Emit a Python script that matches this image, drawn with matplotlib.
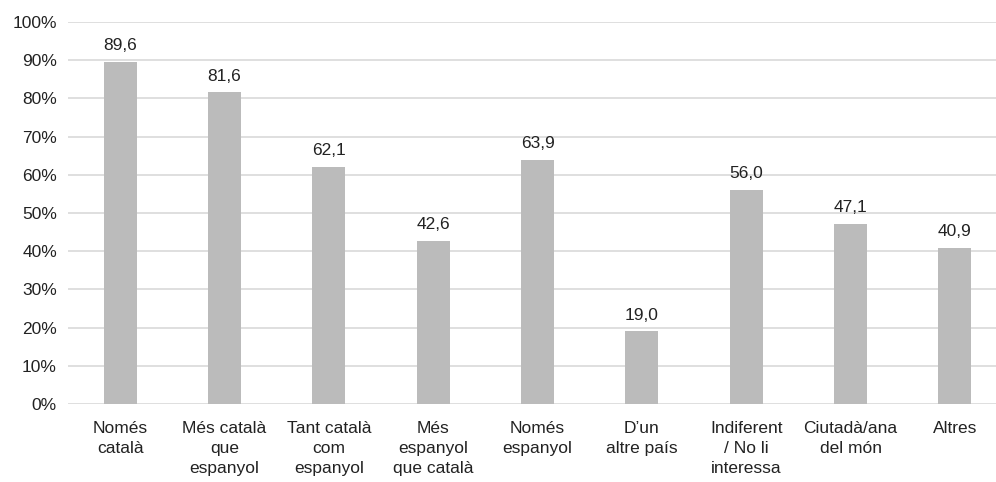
import matplotlib.pyplot as plt
from matplotlib.ticker import FuncFormatter

categories = ["Només\ncatalà", "Més català\nque\nespanyol", "Tant català\ncom\nespanyol",
              "Més\nespanyol\nque català", "Només\nespanyol", "D’un\naltre país",
              "Indiferent\n/ No li\ninteressa", "Ciutadà/ana\ndel món", "Altres"]
values = [89.6, 81.6, 62.1, 42.6, 63.9, 19.0, 56.0, 47.1, 40.9]
labels = ["89,6", "81,6", "62,1", "42,6", "63,9", "19,0", "56,0", "47,1", "40,9"]

plt.rcParams['font.family'] = ['Liberation Sans', 'DejaVu Sans']

fig = plt.figure(figsize=(9.96, 4.82), dpi=100)
# plot area runs slightly past the right edge, like the original
ax = fig.add_axes([68/996, 1 - 404/482, 939/996, 382/482])

x = range(len(categories))
ax.bar(x, values, width=0.316, color='#BBBBBB', zorder=3)
for i, v in enumerate(values):
    ax.text(i, v + 2.3, labels[i], ha='center', va='bottom', fontsize=12.5, color='#222222')

ax.set_xlim(-0.5, len(categories) - 0.5)
ax.set_ylim(0, 100)
ax.set_yticks(range(0, 101, 10))
ax.yaxis.set_major_formatter(FuncFormatter(lambda v, p: f"{int(v)}%"))
ax.set_xticks(list(x))
ax.set_xticklabels(categories, fontsize=12.5, color='#222222', linespacing=1.45)
ax.tick_params(axis='y', labelsize=12.5, labelcolor='#222222', length=0, pad=8)
ax.tick_params(axis='x', length=0, pad=12)
ax.grid(axis='y', color='#D9D9D9', linewidth=1.2, zorder=0)
for s in ax.spines.values():
    s.set_visible(False)

fig.savefig('out.png', dpi=100)
